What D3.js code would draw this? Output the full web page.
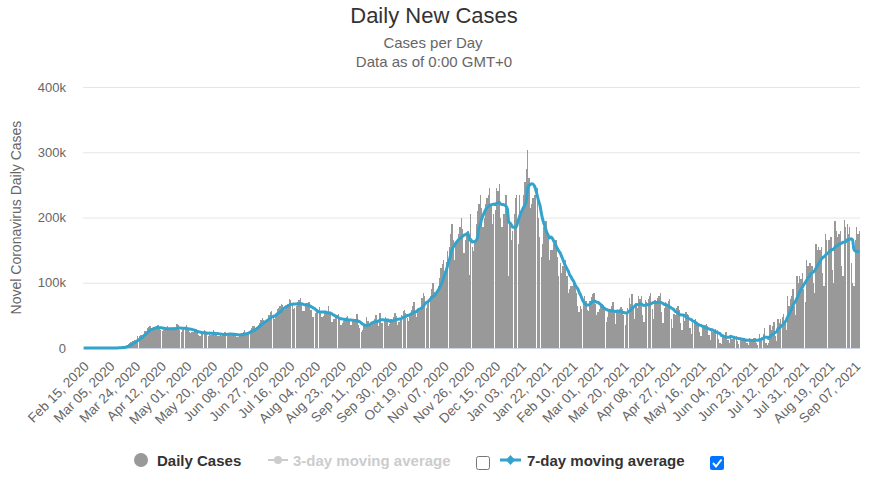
<!DOCTYPE html>
<html>
<head>
<meta charset="utf-8">
<script src="https://cdn.jsdelivr.net/npm/d3@7/dist/d3.min.js"></script>
<style>
  body { margin: 0; background: #fff; }
  svg { font-family: "Liberation Sans", Arial, Helvetica, sans-serif; }
</style>
</head>
<body>
<svg width="869" height="482"></svg>
<script>
// daily new cases, thousands; one row = one week (Sat..Fri), first day Feb 15, 2020
const dailyCases = [
    0, 0, 0, 0, 0, 0, 0,
    0, 0, 0, 0, 0, 0, 0.01,
    0.01, 0.02, 0.02, 0.03, 0.03, 0.05, 0.08,
    0.1, 0.1, 0.2, 0.3, 0.4, 0.5, 0.7,
    0.9, 1.2, 1.8, 2.5, 3.9, 5.6, 8.0,
    9.0, 10.4, 10.7, 12.0, 12.9, 17.8, 18.7,
    19.6, 19.3, 22.2, 26.4, 26.1, 30.4, 32.1,
    33.3, 25.8, 29.6, 31.7, 31.4, 33.4, 35.4,
    29.9, 27.1, 26.6, 28.1, 30.2, 30.1, 33.3,
    30.4, 27.8, 27.0, 29.2, 29.1, 31.5, 36.2,
    35.1, 27.6, 24.9, 27.1, 30.5, 31.2, 36.0,
    29.5, 25.0, 23.0, 24.5, 25.0, 27.5, 28.5,
    25.5, 20.0, 19.0, 21.5, 22.0, 27.0, 26.5,
    24.0, 18.5, 21.0, 20.0, 21.5, 27.5, 24.0,
    21.5, 19.0, 18.0, 19.5, 19.0, 22.5, 24.0,
    24.0, 19.0, 20.5, 20.0, 19.5, 21.5, 23.5,
    22.0, 17.5, 17.5, 19.0, 20.5, 23.0, 25.0,
    27.0, 20.0, 21.5, 25.0, 27.0, 30.0, 33.0,
    33.0, 28.5, 32.0, 36.0, 39.0, 43.0, 46.0,
    43.0, 40.0, 42.5, 45.0, 51.0, 55.0, 57.0,
    48.0, 45.0, 49.0, 60.0, 62.0, 64.0, 68.0,
    66.0, 58.0, 60.0, 66.0, 68.0, 75.0, 74.0,
    68.0, 60.0, 62.0, 64.0, 71.0, 74.0, 76.0,
    67.0, 56.0, 57.0, 64.0, 69.0, 70.0, 70.0,
    58.0, 48.0, 48.0, 54.0, 56.0, 60.0, 63.0,
    57.0, 47.0, 49.0, 53.0, 56.0, 52.0, 64.0,
    55.0, 40.0, 40.0, 45.0, 47.0, 48.0, 52.0,
    46.0, 36.0, 38.0, 42.0, 44.0, 47.0, 49.0,
    45.0, 36.0, 36.0, 41.0, 41.0, 45.0, 52.0,
    35.0, 31.0, 25.0, 28.0, 35.0, 37.0, 47.0,
    42.0, 34.0, 36.0, 38.0, 40.0, 45.0, 50.0,
    43.0, 34.0, 53.0, 39.0, 39.0, 43.0, 48.0,
    45.0, 34.0, 37.0, 44.0, 41.0, 47.0, 54.0,
    49.0, 35.0, 40.0, 44.0, 50.0, 57.0, 58.0,
    54.0, 46.0, 41.0, 52.0, 59.0, 64.0, 70.0,
    57.0, 48.0, 58.0, 62.0, 63.0, 76.0, 84.0,
    80.0, 62.0, 67.0, 74.0, 80.0, 91.0, 99.0,
    86.0, 82.0, 88.0, 95.0, 107.0, 123.0, 129.0,
    135, 118, 132, 148, 155, 175, 190,
    165, 135, 160, 165, 174, 185, 200,
    182, 145, 165, 175, 180, 112, 206,
    155, 148, 165, 190, 210, 220, 235,
    215, 185, 200, 220, 230, 235, 245,
    220, 190, 205, 212, 245, 240, 252,
    200, 185, 205, 205, 235, 210, 110,
    190, 165, 180, 205, 230, 235, 160,
    235, 205, 210, 235, 255, 275, 303,
    260, 215, 220, 230, 235, 235, 245,
    200, 170, 140, 160, 185, 195, 195,
    170, 135, 150, 150, 160, 165, 165,
    140, 110, 130, 115, 125, 125, 135,
    110, 85, 90, 95, 95, 105, 100,
    85, 65, 55, 65, 60, 70, 80,
    72, 58, 57, 72, 78, 82, 84,
    68, 50, 55, 60, 67, 67, 66,
    59, 40, 48, 58, 60, 65, 70,
    53, 37, 55, 55, 60, 63, 60,
    50, 35, 52, 62, 76, 68, 82,
    62, 45, 69, 62, 80, 75, 80,
    50, 40, 73, 70, 75, 80, 85,
    60, 45, 73, 70, 77, 80, 85,
    55, 38, 62, 70, 68, 72, 75,
    45, 30, 52, 50, 62, 65, 58,
    38, 28, 52, 42, 55, 52, 50,
    30, 22, 38, 38, 45, 40, 38,
    25, 18, 30, 30, 36, 37, 34,
    20, 13, 26, 24, 27, 29, 28,
    14, 8, 6, 20, 20, 24, 24,
    12, 8, 18, 14, 17, 19, 18,
    10, 6, 15, 12, 14, 15, 14,
    7, 5, 15, 12, 13, 15, 15,
    8, 5, 22, 14, 17, 21, 30,
    7, 5, 8, 35, 28, 34, 40,
    18, 10, 45, 38, 45, 48, 52,
    40, 28, 80, 65, 75, 80, 90,
    65, 50, 110, 100, 110, 105, 115,
    90, 70, 135, 125, 130, 130, 125,
    100, 85, 160, 150, 155, 150, 155,
    115, 95, 175, 165, 165, 165, 170,
    120, 100, 195, 180, 170, 175, 180,
    125, 110, 196, 185, 190, 175, 185,
    130, 100, 95, 165, 185, 175, 180
];

// every 19th day gets a label
const tickLabels = [
    "Feb 15, 2020", "Mar 05, 2020", "Mar 24, 2020", "Apr 12, 2020", "May 01, 2020",
    "May 20, 2020", "Jun 08, 2020", "Jun 27, 2020", "Jul 16, 2020", "Aug 04, 2020",
    "Aug 23, 2020", "Sep 11, 2020", "Sep 30, 2020", "Oct 19, 2020", "Nov 07, 2020",
    "Nov 26, 2020", "Dec 15, 2020", "Jan 03, 2021", "Jan 22, 2021", "Feb 10, 2021",
    "Mar 01, 2021", "Mar 20, 2021", "Apr 08, 2021", "Apr 27, 2021", "May 16, 2021",
    "Jun 04, 2021", "Jun 23, 2021", "Jul 12, 2021", "Jul 31, 2021", "Aug 19, 2021",
    "Sep 07, 2021"
];
const tickStep = 19;

const yTicks = [0, 100000, 200000, 300000, 400000];
const yTickLabels = ["0", "100k", "200k", "300k", "400k"];

const legendItems = ["Daily Cases", "3-day moving average", "7-day moving average"];

const svg = d3.select("svg");

const area = { left: 83, right: 860, top: 87, bottom: 348 };

const scX = d3.scaleBand()
    .domain(d3.range(dailyCases.length))
    .range([area.left, area.right])
    .padding(0);

const scY = d3.scaleLinear()
    .domain([0, 400000])
    .range([area.bottom, area.top]);

// titles
svg.append("text")
    .attr("x", 434).attr("y", 23)
    .attr("text-anchor", "middle")
    .style("font-size", "22px").style("fill", "#333")
    .text("Daily New Cases");

svg.append("text")
    .attr("x", 433).attr("y", 48)
    .attr("text-anchor", "middle")
    .style("font-size", "15px").style("fill", "#666")
    .text("Cases per Day");

svg.append("text")
    .attr("x", 434).attr("y", 67)
    .attr("text-anchor", "middle")
    .style("font-size", "15px").style("fill", "#666")
    .text("Data as of 0:00 GMT+0");

// y grid + labels
const axisY = d3.axisLeft(scY)
    .tickValues(yTicks)
    .tickSize(-(area.right - area.left))
    .tickPadding(17)
    .tickFormat((d, i) => yTickLabels[i]);

const gY = svg.append("g")
    .attr("transform", `translate(${area.left}, 0)`)
    .call(axisY);
gY.select(".domain").remove();
gY.selectAll(".tick line").attr("stroke", "#e6e6e6");
gY.selectAll(".tick text")
    .style("font-size", "13px")
    .style("fill", "#666")
    .style("font-family", "inherit");

svg.append("text")
    .attr("transform", `translate(21, ${(area.top + area.bottom) / 2}) rotate(-90)`)
    .attr("text-anchor", "middle")
    .style("font-size", "14px").style("fill", "#666")
    .text("Novel Coronavirus Daily Cases");

// bars
const bw = scX.bandwidth();
svg.append("g")
    .selectAll("rect")
    .data(dailyCases).enter()
    .append("rect")
    .attr("x", (d, i) => Math.round(scX(i) + 0.04))
    .attr("width", (d, i) => Math.max(0, Math.round(scX(i) + bw - 0.04) - Math.round(scX(i) + 0.04)))
    .attr("y", d => Math.round(scY(d * 1000)))
    .attr("height", d => area.bottom - Math.round(scY(d * 1000)))
    .attr("shape-rendering", "crispEdges")
    .style("fill", "#999999");

// x axis line
svg.append("line")
    .attr("x1", area.left).attr("x2", area.right)
    .attr("y1", area.bottom + 0.5).attr("y2", area.bottom + 0.5)
    .attr("stroke", "#ccd6eb");

// 7-day trailing average
const avg7 = dailyCases.map((d, i) =>
    d3.mean(dailyCases.slice(Math.max(0, i - 6), i + 1)) * 1000);

const lineGen = d3.line()
    .x((d, i) => scX(i) + bw / 2)
    .y(d => scY(d))
    .curve(d3.curveMonotoneX);

svg.append("path")
    .attr("d", lineGen(avg7))
    .attr("fill", "none")
    .attr("stroke", "#33a3cc")
    .attr("stroke-width", 3)
    .attr("stroke-linejoin", "round");

// x labels
const axisX = d3.axisBottom(scX)
    .tickValues(tickLabels.map((d, i) => i * tickStep))
    .tickSize(0)
    .tickFormat(i => tickLabels[i / tickStep]);

const gX = svg.append("g")
    .attr("transform", `translate(0, ${area.bottom})`)
    .call(axisX);
gX.select(".domain").remove();
gX.selectAll(".tick text")
    .style("font-size", "13.5px")
    .style("fill", "#666")
    .style("font-family", "inherit")
    .style("text-anchor", "end")
    .attr("dx", "0")
    .attr("dy", "0")
    .attr("transform", "translate(4, 17) rotate(-45)");

// legend
const lg = svg.append("g").style("font-size", "15px").style("font-weight", "bold");

lg.append("circle").attr("cx", 141).attr("cy", 460).attr("r", 7).style("fill", "#999");
lg.append("text").attr("x", 157).attr("y", 465.5).style("fill", "#333").text(legendItems[0]);

lg.append("line").attr("x1", 268).attr("x2", 288).attr("y1", 460).attr("y2", 460)
    .attr("stroke", "#cccccc").attr("stroke-width", 2);
lg.append("circle").attr("cx", 278).attr("cy", 460).attr("r", 4).style("fill", "#cccccc");
lg.append("text").attr("x", 293).attr("y", 465.5).style("fill", "#cccccc").text(legendItems[1]);

lg.append("rect").attr("x", 476.5).attr("y", 456.5).attr("width", 13).attr("height", 13)
    .attr("rx", 2).style("fill", "#fff").attr("stroke", "#767676");

lg.append("line").attr("x1", 500).attr("x2", 521).attr("y1", 460).attr("y2", 460)
    .attr("stroke", "#33a3cc").attr("stroke-width", 3);
lg.append("path").attr("d", "M510.5,455 L515,460 L510.5,465 L506,460 Z").style("fill", "#33a3cc");
lg.append("text").attr("x", 527).attr("y", 465.5).style("fill", "#333").text(legendItems[2]);

lg.append("rect").attr("x", 710).attr("y", 456).attr("width", 14).attr("height", 14)
    .attr("rx", 2).style("fill", "#0075ff");
lg.append("path").attr("d", "M713,463 L716,466.5 L721.5,459.5")
    .attr("fill", "none").attr("stroke", "#fff").attr("stroke-width", 2);
</script>
</body>
</html>
